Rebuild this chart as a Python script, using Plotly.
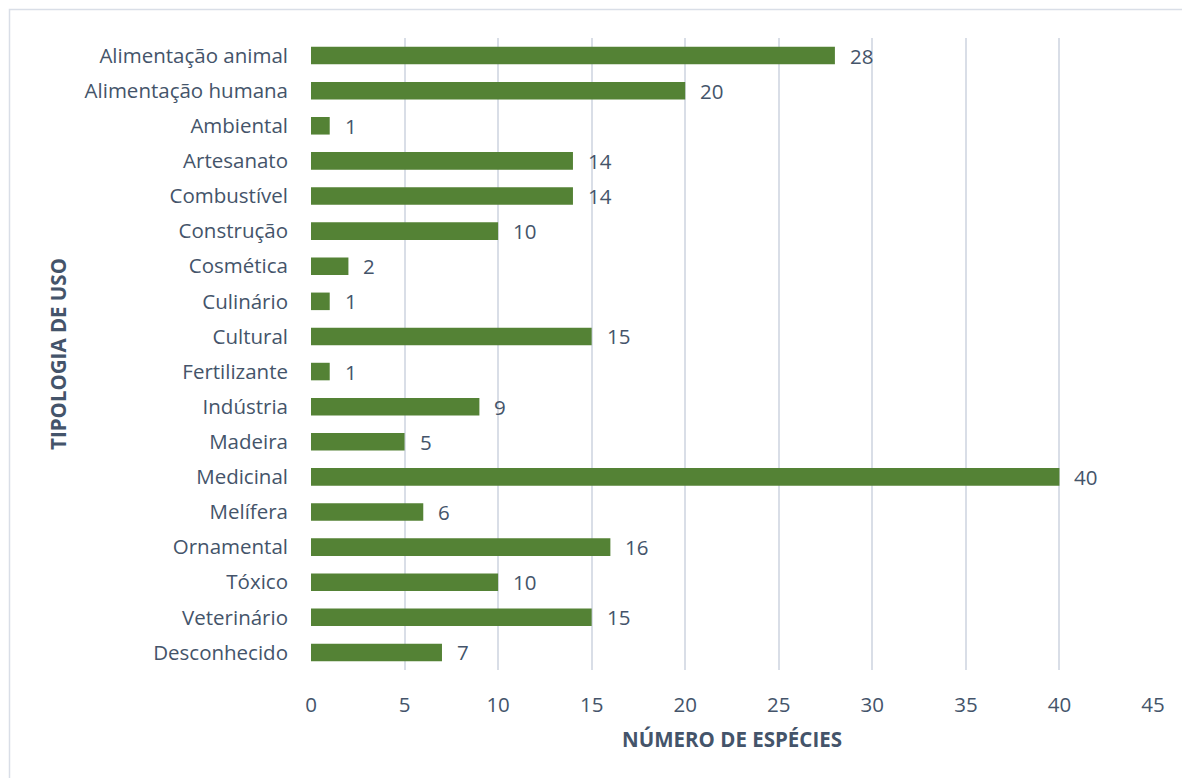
import plotly.graph_objects as go

categorias = [
    "Alimentação animal", "Alimentação humana", "Ambiental", "Artesanato",
    "Combustível", "Construção", "Cosmética", "Culinário", "Cultural",
    "Fertilizante", "Indústria", "Madeira", "Medicinal", "Melífera",
    "Ornamental", "Tóxico", "Veterinário", "Desconhecido",
]
especies = [28, 20, 1, 14, 14, 10, 2, 1, 15, 1, 9, 5, 40, 6, 16, 10, 15, 7]
x_ticks = [0, 5, 10, 15, 20, 25, 30, 35, 40, 45]

TEXT = "#44546A"
GRID = "#D9DEE7"
BAR = "#548235"
FONT = "Open Sans"

W, H = 1182, 778
ML, MR, MT, MB = 311, 29, 38, 108
PW, PH = W - ML - MR, H - MT - MB

fig = go.Figure(
    go.Bar(
        x=especies,
        y=categorias,
        orientation="h",
        marker=dict(color=BAR, line=dict(width=0)),
        width=0.5,
        hoverinfo="x+y",
    )
)

# value labels placed just past the end of each bar
for cat, val in zip(categorias, especies):
    fig.add_annotation(
        x=val, y=cat, text=str(val), showarrow=False,
        xanchor="left", xshift=13,
        font=dict(family=FONT, size=20.5, color=TEXT),
    )

fig.update_layout(
    width=W, height=H,
    paper_bgcolor="white", plot_bgcolor="white",
    margin=dict(l=ML, r=MR, t=MT, b=MB),
    showlegend=False,
    font=dict(family=FONT, color=TEXT),
    xaxis=dict(
        range=[0, 45], tickvals=x_ticks, ticktext=[str(t) for t in x_ticks],
        showgrid=True, gridcolor=GRID, gridwidth=2,
        zeroline=False, showline=False, ticks="",
        tickfont=dict(family=FONT, size=20.5, color=TEXT),
        ticklabelstandoff=20,
        title=dict(text="<b>NÚMERO DE ESPÉCIES</b>", standoff=16,
                   font=dict(family=FONT, size=20.5, color=TEXT)),
        fixedrange=True,
    ),
    yaxis=dict(
        autorange="reversed", type="category",
        showgrid=False, zeroline=False, showline=False, ticks="",
        tickfont=dict(family=FONT, size=20.5, color=TEXT),
        ticklabelstandoff=22,
        title=dict(text="<b>TIPOLOGIA DE USO</b>", standoff=12,
                   font=dict(family=FONT, size=20.5, color=TEXT)),
        fixedrange=True,
    ),
    shapes=[
        # chart-area frame
        dict(type="rect", xref="paper", yref="paper",
             x0=-(ML - 9.5) / PW, x1=1.2,
             y0=-0.3, y1=1 + (MT - 9.5) / PH,
             line=dict(color=GRID, width=1.5), fillcolor="rgba(0,0,0,0)",
             layer="below"),
    ],
)

fig.write_html("out.html")
